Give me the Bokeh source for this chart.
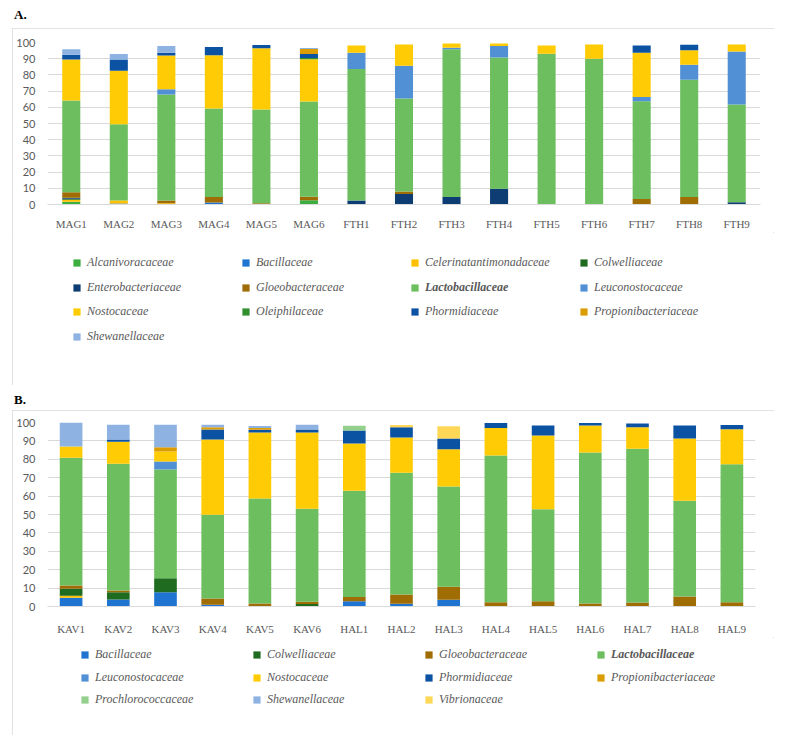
from bokeh.plotting import figure
from bokeh.models import FactorRange, Legend, LegendItem, Div, ColumnDataSource, Range1d
from bokeh.layouts import column
from bokeh.embed import file_html
from bokeh.resources import INLINE

# ---------------- Panel A data ----------------
samples_a = ["MAG1", "MAG2", "MAG3", "MAG4", "MAG5", "MAG6",
             "FTH1", "FTH2", "FTH3", "FTH4", "FTH5", "FTH6", "FTH7", "FTH8", "FTH9"]
alcanivoracaceae_a = [1.7, 0, 0, 0, 0, 2.7, 0, 0, 0, 0, 0, 0, 0, 0, 0]
bacillaceae_a = [0, 0.6, 0, 1.2, 0, 0, 0, 0, 0, 0, 0, 0, 0, 0, 0]
celerinatantimonadaceae_a = [1.2, 1.9, 0.8, 0, 0, 0, 0, 0, 0, 0, 0, 0, 0, 0, 0]
colwelliaceae_a = [0.6, 0, 0, 0, 0, 0, 0, 0, 0, 0, 0, 0, 0, 0, 0]
enterobacteriaceae_a = [0.7, 0, 0, 0, 0, 0, 2.5, 6.5, 4.6, 9.7, 0, 0, 0, 0, 1.4]
gloeobacteraceae_a = [3.3, 0, 1.7, 3.4, 0.8, 2.1, 0, 1.6, 0, 0, 0, 0, 3.4, 4.6, 0]
lactobacillaceae_a = [56.7, 47.0, 65.4, 54.6, 57.8, 58.8, 81.1, 57.4, 91.2, 81.0, 93.1, 89.9, 60.4, 72.4, 60.4]
leuconostocaceae_a = [0, 0, 3.2, 0, 0, 0, 10.1, 20.2, 1.0, 7.1, 0, 0, 2.5, 9.3, 32.7]
nostocaceae_a = [25.3, 33.0, 20.8, 32.9, 37.8, 26.1, 4.5, 13.1, 2.6, 1.6, 5.1, 8.9, 27.4, 8.9, 4.3]
oleiphilaceae_a = [0, 0, 0, 0, 0, 0.8, 0, 0, 0, 0, 0, 0, 0, 0, 0]
phormidiaceae_a = [3.0, 7.0, 1.8, 5.1, 2.0, 2.4, 0, 0, 0, 0, 0, 0, 4.5, 3.4, 0]
propionibacteriaceae_a = [0, 0, 0, 0, 0, 3.1, 0, 0, 0, 0, 0, 0, 0, 0, 0]
shewanellaceae_a = [3.3, 3.4, 4.1, 0, 0, 0.6, 0, 0, 0, 0, 0, 0, 0, 0, 0]

families_a = ["Alcanivoracaceae", "Bacillaceae", "Celerinatantimonadaceae", "Colwelliaceae",
              "Enterobacteriaceae", "Gloeobacteraceae", "Lactobacillaceae", "Leuconostocaceae",
              "Nostocaceae", "Oleiphilaceae", "Phormidiaceae", "Propionibacteriaceae",
              "Shewanellaceae"]
series_a = [alcanivoracaceae_a, bacillaceae_a, celerinatantimonadaceae_a, colwelliaceae_a,
            enterobacteriaceae_a, gloeobacteraceae_a, lactobacillaceae_a, leuconostocaceae_a,
            nostocaceae_a, oleiphilaceae_a, phormidiaceae_a, propionibacteriaceae_a,
            shewanellaceae_a]

# ---------------- Panel B data ----------------
samples_b = ["KAV1", "KAV2", "KAV3", "KAV4", "KAV5", "KAV6",
             "HAL1", "HAL2", "HAL3", "HAL4", "HAL5", "HAL6", "HAL7", "HAL8", "HAL9"]
bacillaceae_b = [4.7, 3.8, 7.7, 0.9, 0, 0, 2.8, 1.5, 3.7, 0, 0, 0, 0, 0, 0]
celerinatantimonadaceae_b = [1.1, 0, 0, 0, 0, 0, 0, 0, 0, 0, 0, 0, 0, 0, 0]
colwelliaceae_b = [3.8, 3.9, 7.7, 0, 0, 1.4, 0, 0, 0, 0, 0, 0, 0, 0, 0]
gloeobacteraceae_b = [1.8, 1.0, 0, 3.4, 1.6, 1.2, 2.3, 5.0, 7.1, 2.3, 2.8, 1.6, 2.2, 5.4, 2.3]
lactobacillaceae_b = [69.5, 68.9, 59.1, 45.5, 57.1, 50.5, 57.8, 66.2, 54.4, 79.7, 50.0, 82.1, 83.6, 52.1, 75.0]
leuconostocaceae_b = [0, 0, 4.3, 0, 0, 0, 0, 0, 0, 0, 0, 0, 0, 0, 0]
nostocaceae_b = [6.0, 11.9, 5.5, 40.9, 35.9, 41.5, 25.7, 19.1, 20.3, 15.0, 40.2, 14.7, 11.6, 33.8, 19.0]
phormidiaceae_b = [0, 1.2, 0, 5.5, 1.4, 1.6, 7.0, 5.6, 5.8, 2.7, 5.4, 1.3, 2.1, 7.1, 2.3]
propionibacteriaceae_b = [0, 0, 2.2, 1.2, 1.0, 0, 0, 0, 0, 0, 0, 0, 0, 0, 0]
prochlorococcaceae_b = [0, 0, 0, 0, 0, 0, 2.7, 0, 0, 0, 0, 0, 0, 0, 0]
shewanellaceae_b = [13.1, 8.1, 12.3, 1.4, 1.1, 2.6, 0, 0, 0, 0, 0, 0, 0, 0, 0]
vibrionaceae_b = [0, 0, 0, 0, 0, 0, 0, 1.2, 6.6, 0, 0, 0, 0, 0, 0]

families_b = ["Bacillaceae", "Celerinatantimonadaceae", "Colwelliaceae", "Gloeobacteraceae",
              "Lactobacillaceae", "Leuconostocaceae", "Nostocaceae", "Phormidiaceae",
              "Propionibacteriaceae", "Prochlorococcaceae", "Shewanellaceae", "Vibrionaceae"]
series_b = [bacillaceae_b, celerinatantimonadaceae_b, colwelliaceae_b, gloeobacteraceae_b,
            lactobacillaceae_b, leuconostocaceae_b, nostocaceae_b, phormidiaceae_b,
            propionibacteriaceae_b, prochlorococcaceae_b, shewanellaceae_b, vibrionaceae_b]
# families listed in legend B (Celerinatantimonadaceae is not listed there)
legend_b = ["Bacillaceae", "Colwelliaceae", "Gloeobacteraceae", "Lactobacillaceae",
            "Leuconostocaceae", "Nostocaceae", "Phormidiaceae", "Propionibacteriaceae",
            "Prochlorococcaceae", "Shewanellaceae", "Vibrionaceae"]

y_ticks = [0, 10, 20, 30, 40, 50, 60, 70, 80, 90, 100]

colors = {
    "Alcanivoracaceae": "#3CAE3F",
    "Bacillaceae": "#1F74D1",
    "Celerinatantimonadaceae": "#FFC000",
    "Colwelliaceae": "#1F6B1F",
    "Enterobacteriaceae": "#0E3D74",
    "Gloeobacteraceae": "#A06C04",
    "Lactobacillaceae": "#6CBE5E",
    "Leuconostocaceae": "#5290D5",
    "Nostocaceae": "#FFCB05",
    "Oleiphilaceae": "#2F8F2C",
    "Phormidiaceae": "#0B52A3",
    "Propionibacteriaceae": "#DB9D02",
    "Shewanellaceae": "#8EB3E2",
    "Prochlorococcaceae": "#93D08B",
    "Vibrionaceae": "#FFD757",
}

GRID = "#D9D9D9"
TXT = "#595959"
BOX_W = 762


def make_chart(samples, families, series, height, borders, bar_width, standoff):
    data = {"sample": samples}
    for name, vals in zip(families, series):
        data[name] = vals
    src = ColumnDataSource(data)
    p = figure(x_range=FactorRange(factors=samples, range_padding=0),
               y_range=Range1d(0, 100),
               width=BOX_W, height=height, output_backend="svg", toolbar_location=None,
               min_border_left=borders[0], min_border_right=borders[1],
               min_border_top=borders[2], min_border_bottom=borders[3])
    p.vbar_stack(families, x="sample", width=bar_width, source=src,
                 color=[colors[f] for f in families], line_color=None)
    p.outline_line_color = None
    p.xgrid.grid_line_color = None
    p.ygrid.grid_line_color = GRID
    p.yaxis.ticker = y_ticks
    p.yaxis.axis_line_color = None
    p.yaxis.major_tick_line_color = None
    p.yaxis.minor_tick_line_color = None
    p.yaxis.major_label_text_font = "Lato"
    p.yaxis.major_label_text_font_size = "11px"
    p.yaxis.major_label_text_color = TXT
    p.yaxis.major_label_standoff = 6
    p.xaxis.axis_line_color = GRID
    p.xaxis.major_tick_line_color = None
    p.xaxis.minor_tick_line_color = None
    p.xaxis.major_label_text_font = "Liberation Serif"
    p.xaxis.major_label_text_font_size = "11px"
    p.xaxis.major_label_text_color = TXT
    p.xaxis.major_label_standoff = standoff
    return p


def make_legend(names, height, x0, y0, dx, dy):
    p = figure(width=BOX_W, height=height, output_backend="svg", toolbar_location=None,
               x_range=Range1d(0, 1), y_range=Range1d(0, 1),
               x_axis_type=None, y_axis_type=None,
               min_border=0, min_border_left=0, min_border_right=0,
               min_border_top=0, min_border_bottom=0)
    p.outline_line_color = None
    p.xgrid.visible = False
    p.ygrid.visible = False
    for i, name in enumerate(names):
        # zero-size legend proxy carrying the family colour (draws nothing itself)
        proxy = p.vbar(x=[0], top=[0], bottom=[0], width=0,
                       fill_color=colors[name], line_color=None)
        row, col = divmod(i, 4)
        lg = Legend(items=[LegendItem(label=name, renderers=[proxy])],
                    location=(x0 + col * dx, y0 - row * dy),
                    border_line_color=None, background_fill_alpha=0,
                    padding=0, margin=0, spacing=0,
                    glyph_width=9, glyph_height=9, label_standoff=6,
                    label_height=14,
                    label_text_font="Liberation Serif",
                    label_text_font_style="bold italic" if name == "Lactobacillaceae" else "italic",
                    label_text_font_size="12px", label_text_color=TXT,
                    label_text_baseline="middle")
        p.add_layout(lg)
    return p


chartA = make_chart(samples_a, families_a, series_a, 204, (35, 14, 14, 25), 0.38, 7)
legendA = make_legend(families_a, 153, 25, 115, 169, 24.5)
chartB = make_chart(samples_b, families_b, series_b, 227, (35, 19, 12, 25), 0.48, 10)
legendB = make_legend(legend_b, 98, 33, 73, 172, 22.5)

box_style = {"outline": "1px solid #D9D9D9", "outline-offset": "-1px"}
boxA = column(chartA, legendA, spacing=0, margin=(0, 0, 0, 12), styles=box_style)
boxB = column(chartB, legendB, spacing=0, margin=(0, 0, 0, 12), styles=box_style)

label_style = {"font-family": "Liberation Serif", "font-size": "13px", "color": "#000"}
divA = Div(text="<b>A.</b>", width=40, height=22, margin=(6, 0, 0, 14), styles=label_style)
divB = Div(text="<b>B.</b>", width=40, height=19, margin=(6, 0, 0, 14), styles=label_style)

layout = column(divA, boxA, divB, boxB, spacing=0)

open("out.html", "w").write(file_html(layout, INLINE))
